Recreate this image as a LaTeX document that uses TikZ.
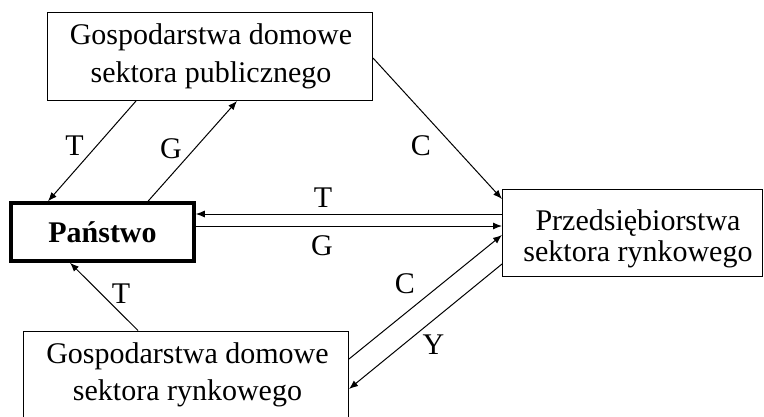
\documentclass[tikz,border=0pt]{standalone}
\usepackage{fontspec}
\setmainfont{Liberation Serif}
\usetikzlibrary{arrows.meta,calc}
\begin{document}
\begin{tikzpicture}[x=1pt,y=-1pt,
  box/.style={draw, line width=1pt, inner sep=0pt},
  txt/.style={align=center, inner sep=0pt},
  lbl/.style={font=\fontsize{30}{36}\selectfont, anchor=base, inner sep=0pt},
  arr/.style={line width=1pt, -{Latex[length=9pt,width=7pt]}}]
\clip (0,0) rectangle (764,416);
% boxes
\node[box, minimum width=325pt, minimum height=88pt] (pub) at (210,56.5) {};
\node[box, line width=3.5pt, minimum width=183pt, minimum height=58pt] (pan) at (102.5,232) {};
\node[box, minimum width=260pt, minimum height=87pt] (przed) at (632.5,233) {};
\node[box, minimum width=325pt, minimum height=100pt] (hrynek) at (186,381) {};
% texts
\node[txt, font=\fontsize{30}{38}\selectfont] (pubT) at (211,56) {Gospodarstwa domowe\\sektora publicznego};
\node[txt, font=\fontsize{30}{36}\selectfont\bfseries, anchor=base] (panT) at (102.5,242) {Państwo};
\node[txt, font=\fontsize{30}{31}\selectfont] (przedT) at (638,238.5) {Przedsiębiorstwa\\sektora rynkowego};
\node[txt, font=\fontsize{30}{37}\selectfont] (hrynekT) at (187.5,374.5) {Gospodarstwa domowe\\sektora rynkowego};
% connectors
\draw[arr] ($(pub.south west)+(89,0)$) -- ($(pan.north west)+(38.75,0)$);
\draw[arr] ($(pan.north west)+(138.75,0)$) -- ($(pub.south west)+(190,0)$);
\draw[arr] ($(przed.west)+(0,-19)$) -- ($(pan.east)+(0,-18)$);
\draw[arr] ($(pan.east)+(0,-6)$) -- ($(przed.west)+(0,-7)$);
\draw[arr] ($(pub.east)+(0,1.5)$) -- ($(przed.west)+(0,-34)$);
\draw[arr] ($(hrynek.east)+(0,-22)$) -- ($(przed.west)+(0,2)$);
\draw[arr] ($(przed.west)+(0,31)$) -- ($(hrynek.east)+(0,8)$);
\draw[arr] ($(hrynek.north west)+(115,0)$) -- ($(pan.south west)+(60.75,0)$);
% labels
\node[lbl] (l1) at (74.5,155) {T};
\node[lbl] (l2) at (171,158) {G};
\node[lbl] (l3) at (323,207) {T};
\node[lbl] (l4) at (322,255) {G};
\node[lbl] (l5) at (421,155) {C};
\node[lbl] (l6) at (405,293) {C};
\node[lbl] (l7) at (433.5,354) {Y};
\node[lbl] (l8) at (121,303) {T};
\end{tikzpicture}
\end{document}
